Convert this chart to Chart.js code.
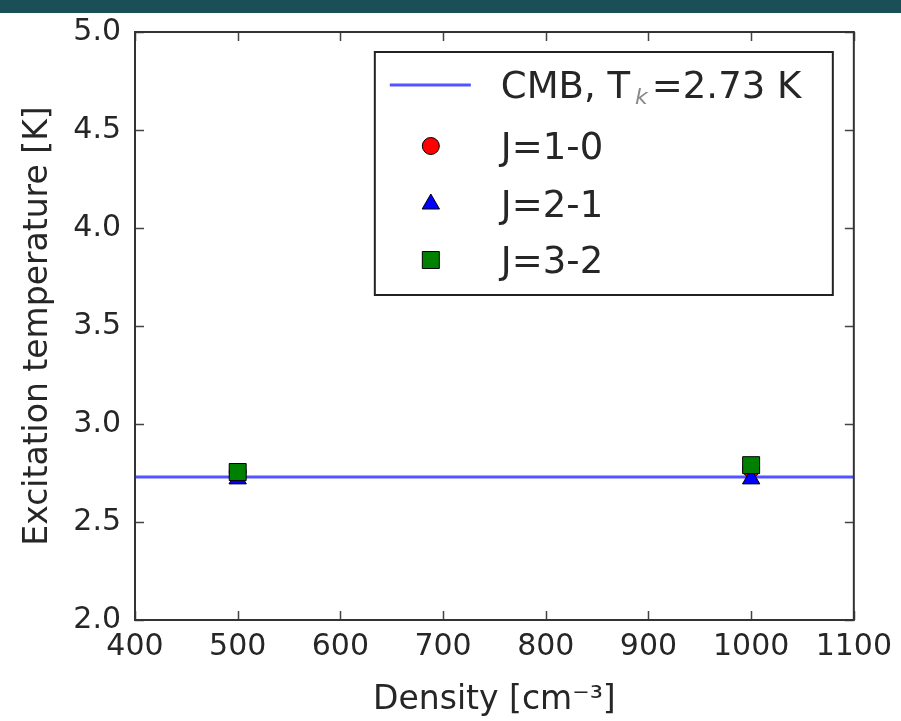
<!DOCTYPE html>
<html>
<head>
<meta charset="utf-8">
<script src="https://cdn.jsdelivr.net/npm/chart.js@4"></script>
<style>
  body { margin: 0; background: #fff; }
  #wrap { position: relative; width: 901px; height: 721px; }
  #chart { display: block; }
  #band { position: absolute; left: 0; top: 0; width: 901px; height: 13px; background: #1a4f58; }
</style>
</head>
<body>
<div id="wrap">
  <canvas id="chart" width="901" height="721"></canvas>
  <div id="band"></div>
</div>
<script>
// data
const densities = [500, 1000];
const tJ10 = [2.755, 2.77];
const tJ21 = [2.72, 2.72];
const tJ32 = [2.755, 2.79];
const cmbDensity = [400, 1100];
const cmbTemp = [2.73, 2.73];
const xTicks = [400, 500, 600, 700, 800, 900, 1000, 1100];
const yTicks = [2.0, 2.5, 3.0, 3.5, 4.0, 4.5, 5.0];

const TEXT = "#262626";
Chart.defaults.font.family = "'DejaVu Sans', sans-serif";
Chart.defaults.color = TEXT;

const pts = (xs, ys) => xs.map((x, i) => ({ x, y: ys[i] }));

// frame with inward ticks on all four sides
const frame = {
  id: "frame",
  afterDraw(chart) {
    const { ctx, chartArea: a, scales } = chart;
    ctx.save();
    ctx.strokeStyle = "#444";
    ctx.lineWidth = 1.5;
    const len = 9;
    ctx.beginPath();
    scales.x.ticks.forEach(t => {
      const px = Math.round(scales.x.getPixelForValue(t.value)) + 0.5;
      ctx.moveTo(px, a.bottom); ctx.lineTo(px, a.bottom - len);
      ctx.moveTo(px, a.top); ctx.lineTo(px, a.top + len);
    });
    scales.y.ticks.forEach(t => {
      const py = Math.round(scales.y.getPixelForValue(t.value)) + 0.5;
      ctx.moveTo(a.left, py); ctx.lineTo(a.left + len, py);
      ctx.moveTo(a.right, py); ctx.lineTo(a.right - len, py);
    });
    ctx.stroke();
    ctx.strokeStyle = "#333";
    ctx.lineWidth = 2;
    ctx.strokeRect(a.left, a.top, a.right - a.left, a.bottom - a.top);
    ctx.restore();
  }
};

// draws labels like "CMB, T_k=2.73 K": _x is a small italic subscript
function drawLabel(ctx, text, x, y, size) {
  const normal = size + "px 'DejaVu Sans'";
  const small = "italic " + Math.round(size * 0.6) + "px 'DejaVu Sans'";
  let cx = x;
  for (let i = 0; i < text.length; i++) {
    const ch = text[i];
    if (ch === "_") {
      ctx.font = small;
      ctx.fillStyle = "#888";
      ctx.fillText(text[i + 1], cx + 5, y + size * 0.16);
      cx += ctx.measureText(text[i + 1]).width + 9;
      ctx.fillStyle = TEXT;
      i++;
      continue;
    }
    ctx.font = normal;
    ctx.fillText(ch, cx, y);
    cx += ctx.measureText(ch).width;
  }
}

const boxLegend = {
  id: "boxLegend",
  afterDraw(chart) {
    const { ctx, chartArea: a } = chart;
    const w = 458, h = 243;
    const x0 = a.right - 21 - w, y0 = a.top + 20;
    ctx.save();
    ctx.fillStyle = "#fff";
    ctx.fillRect(x0, y0, w, h);
    ctx.strokeStyle = "#222";
    ctx.lineWidth = 2;
    ctx.strokeRect(x0, y0, w, h);
    const rows = [33, 94, 152, 208];
    const size = 37;
    chart.data.datasets.forEach((ds, i) => {
      const ry = y0 + rows[i];
      if (ds.showLine) {
        ctx.strokeStyle = ds.borderColor;
        ctx.lineWidth = ds.borderWidth;
        ctx.beginPath();
        ctx.moveTo(x0 + 15, ry); ctx.lineTo(x0 + 96, ry);
        ctx.stroke();
      } else {
        ctx.fillStyle = ds.backgroundColor;
        ctx.strokeStyle = ds.borderColor;
        ctx.lineWidth = ds.borderWidth;
        Chart.helpers.drawPoint(ctx, {
          pointStyle: ds.pointStyle, radius: ds.pointRadius, rotation: 0, borderWidth: ds.borderWidth
        }, x0 + 56, ry);
      }
      ctx.fillStyle = TEXT;
      ctx.textBaseline = "alphabetic";
      drawLabel(ctx, ds.label, x0 + 126, ry + size * 0.36, size);
    });
    ctx.restore();
  }
};

new Chart(document.getElementById("chart"), {
  type: "scatter",
  data: {
    datasets: [
      {
        label: "CMB, T_k=2.73 K",
        data: pts(cmbDensity, cmbTemp),
        showLine: true,
        borderColor: "rgba(40, 40, 255, 0.8)",
        borderWidth: 3,
        pointRadius: 0,
        order: 4,
      },
      {
        label: "J=1-0",
        data: pts(densities, tJ10),
        pointStyle: "circle",
        pointRadius: 8.5,
        backgroundColor: "#ff0000",
        borderColor: "#000",
        borderWidth: 1,
        order: 3,
      },
      {
        label: "J=2-1",
        data: pts(densities, tJ21),
        pointStyle: "triangle",
        pointRadius: 10,
        backgroundColor: "#0000ff",
        borderColor: "#000",
        borderWidth: 1,
        order: 2,
      },
      {
        label: "J=3-2",
        data: pts(densities, tJ32),
        pointStyle: "rect",
        pointRadius: 12,
        backgroundColor: "#008000",
        borderColor: "#000",
        borderWidth: 1,
        order: 1,
      },
    ],
  },
  options: {
    responsive: false,
    animation: false,
    layout: { padding: { left: 0, top: 29, right: 46, bottom: 0 } },
    plugins: { legend: { display: false }, tooltip: { enabled: false } },
    scales: {
      x: {
        type: "linear",
        min: 400,
        max: 1100,
        afterBuildTicks: s => { s.ticks = xTicks.map(v => ({ value: v })); },
        afterFit: s => { s.height = 101; },
        grid: { display: false, drawTicks: false },
        border: { display: false },
        ticks: { font: { size: 30 }, padding: 9, autoSkip: false, maxRotation: 0, callback: v => String(v) },
        title: { display: true, text: "Density [cm\u207B\u00B3]", font: { size: 33 }, padding: { top: 0, bottom: 1 } },
      },
      y: {
        type: "linear",
        min: 2,
        max: 5,
        afterBuildTicks: s => { s.ticks = yTicks.map(v => ({ value: v })); },
        afterFit: s => { s.width = 135; },
        grid: { display: false, drawTicks: false },
        border: { display: false },
        ticks: { font: { size: 30 }, padding: 14, autoSkip: false, callback: v => v.toFixed(1) },
        title: { display: true, text: "Excitation temperature [K]", font: { size: 33 }, padding: { top: 19, bottom: 0 } },
      },
    },
  },
  plugins: [frame, boxLegend],
});
</script>
</body>
</html>
